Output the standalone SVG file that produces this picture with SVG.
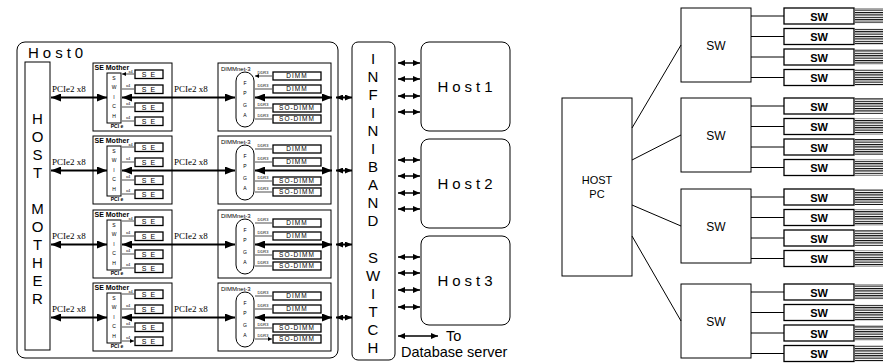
<svg xmlns="http://www.w3.org/2000/svg" width="885" height="363" viewBox="0 0 885 363">
<style>
.s{fill:none;stroke:#000;stroke-width:1}
.b{fill:#fff;stroke:#000;stroke-width:1.3}
.t{font-family:"Liberation Sans",Arial,sans-serif;fill:#000}
.m{text-anchor:middle}
.big{stroke:#000;stroke-width:2;fill:none;marker-start:url(#A);marker-end:url(#A)}
.med{stroke:#000;stroke-width:2;fill:none;marker-start:url(#H);marker-end:url(#H)}
.hst{stroke:#000;stroke-width:1.5;fill:none;marker-start:url(#H);marker-end:url(#H)}
.tiny{stroke:#000;stroke-width:0.7;fill:none;marker-start:url(#T);marker-end:url(#T)}
.pc{font-family:"Liberation Serif","Times New Roman",serif;font-size:9px}
.lbl{font-size:4px}
.sm{font-size:5px}
.sem{font-size:7px;font-weight:bold}
</style>
<defs>
<marker id="A" viewBox="0 0 10 8" refX="10" refY="4" markerWidth="10" markerHeight="8" markerUnits="userSpaceOnUse" orient="auto-start-reverse"><path d="M0,0L10,4L0,8z"/></marker>
<marker id="H" viewBox="0 0 7 6" refX="7" refY="3" markerWidth="7" markerHeight="6" markerUnits="userSpaceOnUse" orient="auto-start-reverse"><path d="M0,0L7,3L0,6z"/></marker>
<marker id="T" viewBox="0 0 4 4" refX="4" refY="2" markerWidth="4" markerHeight="4" markerUnits="userSpaceOnUse" orient="auto-start-reverse"><path d="M0,0L4,2L0,4z"/></marker>
<pattern id="comb" patternUnits="userSpaceOnUse" width="4" height="2.4"><rect x="0" y="0" width="4" height="1.1" fill="#000"/></pattern>
</defs>
<rect width="885" height="363" fill="#fff"/>

<g id="host0">
<rect class="s" x="17" y="42" width="321" height="316" rx="8" stroke-width="1.5"/>
<text class="t" x="28" y="58" font-size="15" letter-spacing="4">Host0</text>
</g>
<g id="host-mother">
<rect class="s" x="25" y="62" width="25" height="288" stroke-width="1.5"/>
<text class="t m" font-size="15"><tspan x="37.5" y="124">H</tspan><tspan x="37.5" y="142">O</tspan><tspan x="37.5" y="160">S</tspan><tspan x="37.5" y="178">T</tspan><tspan x="37.5" y="214">M</tspan><tspan x="37.5" y="232">O</tspan><tspan x="37.5" y="250">T</tspan><tspan x="37.5" y="268">H</tspan><tspan x="37.5" y="286">E</tspan><tspan x="37.5" y="304">R</tspan></text>
</g>

<!-- Row 1 -->
<g id="se-mother-1">
<rect class="s" x="93" y="63" width="79" height="68" stroke-width="1.3"/>
<text class="t sem" x="94.5" y="70">SE Mother</text>
<rect class="s" x="107" y="73" width="14" height="50"/>
<text class="t m sm"><tspan x="114" y="80">S</tspan><tspan x="114" y="89">W</tspan><tspan x="114" y="99">I</tspan><tspan x="114" y="108">C</tspan><tspan x="114" y="118">H</tspan></text>
<text class="t m sm" x="117" y="128" font-weight="bold">PCI e</text>
<rect class="b" x="135" y="70" width="28" height="8.5"/><text class="t m" x="149" y="76.5" font-size="7" letter-spacing="1">S E</text>
<rect class="b" x="135" y="85" width="28" height="8.5"/><text class="t m" x="149" y="91.5" font-size="7" letter-spacing="1">S E</text>
<rect class="b" x="135" y="103" width="28" height="8.5"/><text class="t m" x="149" y="109.5" font-size="7" letter-spacing="1">S E</text>
<rect class="b" x="135" y="117" width="28" height="8.5"/><text class="t m" x="149" y="123.5" font-size="7" letter-spacing="1">S E</text>
<text class="t m lbl"><tspan x="130.5" y="72.5">x4</tspan><tspan x="128" y="87">x4</tspan><tspan x="128" y="105">x4</tspan><tspan x="128" y="119">x4</tspan></text>
</g>
<g id="dimmnet-1">
<rect class="s" x="218" y="63" width="113" height="68" stroke-width="1.3"/>
<text class="t" x="221" y="70.5" font-size="6">DIMMnet-3</text>
<rect class="s" x="236" y="72" width="18" height="55" rx="9"/>
<text class="t m sm"><tspan x="245" y="85">F</tspan><tspan x="245" y="95">P</tspan><tspan x="245" y="107">G</tspan><tspan x="245" y="117">A</tspan></text>
<rect class="b" x="273" y="72" width="48" height="8"/><text class="t m" x="297" y="78" font-size="6.5" letter-spacing="1">DIMM</text>
<rect class="b" x="273" y="85" width="48" height="8"/><text class="t m" x="297" y="91" font-size="6.5" letter-spacing="1">DIMM</text>
<rect class="b" x="273" y="104" width="48" height="8"/><text class="t m" x="297" y="110" font-size="6.5" letter-spacing="1">SO-DIMM</text>
<rect class="b" x="273" y="115" width="48" height="8"/><text class="t m" x="297" y="121" font-size="6.5" letter-spacing="1">SO-DIMM</text>
<text class="t m lbl"><tspan x="263" y="74">DDR3</tspan><tspan x="263" y="87">DDR3</tspan><tspan x="263" y="106">DDR3</tspan><tspan x="263" y="117">DDR3</tspan></text>
</g>

<!-- Row 2 -->
<g id="se-mother-2">
<rect class="s" x="93" y="136" width="79" height="68" stroke-width="1.3"/>
<text class="t sem" x="94.5" y="143">SE Mother</text>
<rect class="s" x="107" y="146" width="14" height="50"/>
<text class="t m sm"><tspan x="114" y="153">S</tspan><tspan x="114" y="162">W</tspan><tspan x="114" y="172">I</tspan><tspan x="114" y="181">C</tspan><tspan x="114" y="191">H</tspan></text>
<text class="t m sm" x="117" y="201" font-weight="bold">PCI e</text>
<rect class="b" x="135" y="143" width="28" height="8.5"/><text class="t m" x="149" y="149.5" font-size="7" letter-spacing="1">S E</text>
<rect class="b" x="135" y="158" width="28" height="8.5"/><text class="t m" x="149" y="164.5" font-size="7" letter-spacing="1">S E</text>
<rect class="b" x="135" y="176" width="28" height="8.5"/><text class="t m" x="149" y="182.5" font-size="7" letter-spacing="1">S E</text>
<rect class="b" x="135" y="190" width="28" height="8.5"/><text class="t m" x="149" y="196.5" font-size="7" letter-spacing="1">S E</text>
<text class="t m lbl"><tspan x="130.5" y="145.5">x4</tspan><tspan x="128" y="160">x4</tspan><tspan x="128" y="178">x4</tspan><tspan x="128" y="192">x4</tspan></text>
</g>
<g id="dimmnet-2">
<rect class="s" x="218" y="136" width="113" height="68" stroke-width="1.3"/>
<text class="t" x="221" y="143.5" font-size="6">DIMMnet-3</text>
<rect class="s" x="236" y="145" width="18" height="55" rx="9"/>
<text class="t m sm"><tspan x="245" y="158">F</tspan><tspan x="245" y="168">P</tspan><tspan x="245" y="180">G</tspan><tspan x="245" y="190">A</tspan></text>
<rect class="b" x="273" y="145" width="48" height="8"/><text class="t m" x="297" y="151" font-size="6.5" letter-spacing="1">DIMM</text>
<rect class="b" x="273" y="158" width="48" height="8"/><text class="t m" x="297" y="164" font-size="6.5" letter-spacing="1">DIMM</text>
<rect class="b" x="273" y="177" width="48" height="8"/><text class="t m" x="297" y="183" font-size="6.5" letter-spacing="1">SO-DIMM</text>
<rect class="b" x="273" y="188" width="48" height="8"/><text class="t m" x="297" y="194" font-size="6.5" letter-spacing="1">SO-DIMM</text>
<text class="t m lbl"><tspan x="263" y="147">DDR3</tspan><tspan x="263" y="160">DDR3</tspan><tspan x="263" y="179">DDR3</tspan><tspan x="263" y="190">DDR3</tspan></text>
</g>

<!-- Row 3 -->
<g id="se-mother-3">
<rect class="s" x="93" y="210" width="79" height="68" stroke-width="1.3"/>
<text class="t sem" x="94.5" y="217">SE Mother</text>
<rect class="s" x="107" y="220" width="14" height="50"/>
<text class="t m sm"><tspan x="114" y="227">S</tspan><tspan x="114" y="236">W</tspan><tspan x="114" y="246">I</tspan><tspan x="114" y="255">C</tspan><tspan x="114" y="265">H</tspan></text>
<text class="t m sm" x="117" y="275" font-weight="bold">PCI e</text>
<rect class="b" x="135" y="217" width="28" height="8.5"/><text class="t m" x="149" y="223.5" font-size="7" letter-spacing="1">S E</text>
<rect class="b" x="135" y="232" width="28" height="8.5"/><text class="t m" x="149" y="238.5" font-size="7" letter-spacing="1">S E</text>
<rect class="b" x="135" y="250" width="28" height="8.5"/><text class="t m" x="149" y="256.5" font-size="7" letter-spacing="1">S E</text>
<rect class="b" x="135" y="264" width="28" height="8.5"/><text class="t m" x="149" y="270.5" font-size="7" letter-spacing="1">S E</text>
<text class="t m lbl"><tspan x="130.5" y="219.5">x4</tspan><tspan x="128" y="234">x4</tspan><tspan x="128" y="252">x4</tspan><tspan x="128" y="266">x4</tspan></text>
</g>
<g id="dimmnet-3">
<rect class="s" x="218" y="210" width="113" height="68" stroke-width="1.3"/>
<text class="t" x="221" y="217.5" font-size="6">DIMMnet-3</text>
<rect class="s" x="236" y="219" width="18" height="55" rx="9"/>
<text class="t m sm"><tspan x="245" y="232">F</tspan><tspan x="245" y="242">P</tspan><tspan x="245" y="254">G</tspan><tspan x="245" y="264">A</tspan></text>
<rect class="b" x="273" y="219" width="48" height="8"/><text class="t m" x="297" y="225" font-size="6.5" letter-spacing="1">DIMM</text>
<rect class="b" x="273" y="232" width="48" height="8"/><text class="t m" x="297" y="238" font-size="6.5" letter-spacing="1">DIMM</text>
<rect class="b" x="273" y="251" width="48" height="8"/><text class="t m" x="297" y="257" font-size="6.5" letter-spacing="1">SO-DIMM</text>
<rect class="b" x="273" y="262" width="48" height="8"/><text class="t m" x="297" y="268" font-size="6.5" letter-spacing="1">SO-DIMM</text>
<text class="t m lbl"><tspan x="263" y="221">DDR3</tspan><tspan x="263" y="234">DDR3</tspan><tspan x="263" y="253">DDR3</tspan><tspan x="263" y="264">DDR3</tspan></text>
</g>

<!-- Row 4 -->
<g id="se-mother-4">
<rect class="s" x="93" y="283" width="79" height="68" stroke-width="1.3"/>
<text class="t sem" x="94.5" y="290">SE Mother</text>
<rect class="s" x="107" y="293" width="14" height="50"/>
<text class="t m sm"><tspan x="114" y="300">S</tspan><tspan x="114" y="309">W</tspan><tspan x="114" y="319">I</tspan><tspan x="114" y="328">C</tspan><tspan x="114" y="338">H</tspan></text>
<text class="t m sm" x="117" y="348" font-weight="bold">PCI e</text>
<rect class="b" x="135" y="290" width="28" height="8.5"/><text class="t m" x="149" y="296.5" font-size="7" letter-spacing="1">S E</text>
<rect class="b" x="135" y="305" width="28" height="8.5"/><text class="t m" x="149" y="311.5" font-size="7" letter-spacing="1">S E</text>
<rect class="b" x="135" y="323" width="28" height="8.5"/><text class="t m" x="149" y="329.5" font-size="7" letter-spacing="1">S E</text>
<rect class="b" x="135" y="337" width="28" height="8.5"/><text class="t m" x="149" y="343.5" font-size="7" letter-spacing="1">S E</text>
<text class="t m lbl"><tspan x="130.5" y="292.5">x4</tspan><tspan x="128" y="307">x4</tspan><tspan x="128" y="325">x4</tspan><tspan x="128" y="339">x4</tspan></text>
</g>
<g id="dimmnet-4">
<rect class="s" x="218" y="283" width="113" height="68" stroke-width="1.3"/>
<text class="t" x="221" y="290.5" font-size="6">DIMMnet-3</text>
<rect class="s" x="236" y="292" width="18" height="55" rx="9"/>
<text class="t m sm"><tspan x="245" y="305">F</tspan><tspan x="245" y="315">P</tspan><tspan x="245" y="327">G</tspan><tspan x="245" y="337">A</tspan></text>
<rect class="b" x="273" y="292" width="48" height="8"/><text class="t m" x="297" y="298" font-size="6.5" letter-spacing="1">DIMM</text>
<rect class="b" x="273" y="305" width="48" height="8"/><text class="t m" x="297" y="311" font-size="6.5" letter-spacing="1">DIMM</text>
<rect class="b" x="273" y="324" width="48" height="8"/><text class="t m" x="297" y="330" font-size="6.5" letter-spacing="1">SO-DIMM</text>
<rect class="b" x="273" y="335" width="48" height="8"/><text class="t m" x="297" y="341" font-size="6.5" letter-spacing="1">SO-DIMM</text>
<text class="t m lbl"><tspan x="263" y="294">DDR3</tspan><tspan x="263" y="307">DDR3</tspan><tspan x="263" y="326">DDR3</tspan><tspan x="263" y="337">DDR3</tspan></text>
</g>

<g id="infiniband-switch">
<rect class="s" x="352" y="42" width="43" height="318" rx="6" stroke-width="1.5"/>
<text class="t m" font-size="15"><tspan x="373" y="63.5">I</tspan><tspan x="373" y="81.6">N</tspan><tspan x="373" y="99.7">F</tspan><tspan x="373" y="117.8">I</tspan><tspan x="373" y="135.9">N</tspan><tspan x="373" y="154">I</tspan><tspan x="373" y="172.1">B</tspan><tspan x="373" y="190.2">A</tspan><tspan x="373" y="208.3">N</tspan><tspan x="373" y="226.4">D</tspan><tspan x="373" y="262.6">S</tspan><tspan x="373" y="280.7">W</tspan><tspan x="373" y="298.8">I</tspan><tspan x="373" y="316.9">T</tspan><tspan x="373" y="335">C</tspan><tspan x="373" y="353.1">H</tspan></text>
</g>
<g id="host1"><rect class="s" x="421" y="42" width="89" height="89" rx="8" stroke-width="1.5"/><text class="t m" x="467" y="92" font-size="15" letter-spacing="4">Host1</text></g>
<g id="host2"><rect class="s" x="421" y="139" width="89" height="89" rx="8" stroke-width="1.5"/><text class="t m" x="467" y="189" font-size="15" letter-spacing="4">Host2</text></g>
<g id="host3"><rect class="s" x="421" y="236" width="89" height="89" rx="8" stroke-width="1.5"/><text class="t m" x="467" y="286" font-size="15" letter-spacing="4">Host3</text></g>
<g id="database-label">
<text class="t" x="446" y="341" font-size="14.5">To</text>
<text class="t" x="401" y="357" font-size="14.5">Database server</text>
</g>

<!-- Right diagram nodes -->
<g id="host-pc"><rect class="s" x="562" y="98" width="70" height="178"/><text class="t m" font-size="11"><tspan x="597" y="184">HOST</tspan><tspan x="597" y="198">PC</tspan></text></g>
<g id="sw-a"><rect class="s" x="681" y="8" width="70" height="74"/><text class="t m" x="716" y="49.5" font-size="12">SW</text></g>
<g id="sw-b"><rect class="s" x="681" y="98" width="70" height="74"/><text class="t m" x="716" y="139.5" font-size="12">SW</text></g>
<g id="sw-c"><rect class="s" x="681" y="189" width="70" height="74"/><text class="t m" x="716" y="230.5" font-size="12">SW</text></g>
<g id="sw-d"><rect class="s" x="681" y="284" width="70" height="74"/><text class="t m" x="716" y="325.5" font-size="12">SW</text></g>

<g id="leaf-a">
<rect class="b" x="784" y="8" width="70" height="16"/><text class="t m" x="819" y="20.5" font-size="11" font-weight="bold">SW</text><rect x="855" y="8" width="28" height="16" fill="url(#comb)"/>
<rect class="b" x="784" y="28.5" width="70" height="16"/><text class="t m" x="819" y="41" font-size="11" font-weight="bold">SW</text><rect x="855" y="28.5" width="28" height="16" fill="url(#comb)"/>
<rect class="b" x="784" y="49" width="70" height="16"/><text class="t m" x="819" y="61.5" font-size="11" font-weight="bold">SW</text><rect x="855" y="49" width="28" height="16" fill="url(#comb)"/>
<rect class="b" x="784" y="69.5" width="70" height="16"/><text class="t m" x="819" y="82" font-size="11" font-weight="bold">SW</text><rect x="855" y="69.5" width="28" height="16" fill="url(#comb)"/>
</g>
<g id="leaf-b">
<rect class="b" x="784" y="98" width="70" height="16"/><text class="t m" x="819" y="110.5" font-size="11" font-weight="bold">SW</text><rect x="855" y="98" width="28" height="16" fill="url(#comb)"/>
<rect class="b" x="784" y="118.5" width="70" height="16"/><text class="t m" x="819" y="131" font-size="11" font-weight="bold">SW</text><rect x="855" y="118.5" width="28" height="16" fill="url(#comb)"/>
<rect class="b" x="784" y="139" width="70" height="16"/><text class="t m" x="819" y="151.5" font-size="11" font-weight="bold">SW</text><rect x="855" y="139" width="28" height="16" fill="url(#comb)"/>
<rect class="b" x="784" y="159.5" width="70" height="16"/><text class="t m" x="819" y="172" font-size="11" font-weight="bold">SW</text><rect x="855" y="159.5" width="28" height="16" fill="url(#comb)"/>
</g>
<g id="leaf-c">
<rect class="b" x="784" y="189" width="70" height="16"/><text class="t m" x="819" y="201.5" font-size="11" font-weight="bold">SW</text><rect x="855" y="189" width="28" height="16" fill="url(#comb)"/>
<rect class="b" x="784" y="209.5" width="70" height="16"/><text class="t m" x="819" y="222" font-size="11" font-weight="bold">SW</text><rect x="855" y="209.5" width="28" height="16" fill="url(#comb)"/>
<rect class="b" x="784" y="230" width="70" height="16"/><text class="t m" x="819" y="242.5" font-size="11" font-weight="bold">SW</text><rect x="855" y="230" width="28" height="16" fill="url(#comb)"/>
<rect class="b" x="784" y="250.5" width="70" height="16"/><text class="t m" x="819" y="263" font-size="11" font-weight="bold">SW</text><rect x="855" y="250.5" width="28" height="16" fill="url(#comb)"/>
</g>
<g id="leaf-d">
<rect class="b" x="784" y="284" width="70" height="16"/><text class="t m" x="819" y="296.5" font-size="11" font-weight="bold">SW</text><rect x="855" y="284" width="28" height="16" fill="url(#comb)"/>
<rect class="b" x="784" y="304.5" width="70" height="16"/><text class="t m" x="819" y="317" font-size="11" font-weight="bold">SW</text><rect x="855" y="304.5" width="28" height="16" fill="url(#comb)"/>
<rect class="b" x="784" y="325" width="70" height="16"/><text class="t m" x="819" y="337.5" font-size="11" font-weight="bold">SW</text><rect x="855" y="325" width="28" height="16" fill="url(#comb)"/>
<rect class="b" x="784" y="345.5" width="70" height="16"/><text class="t m" x="819" y="358" font-size="11" font-weight="bold">SW</text><rect x="855" y="345.5" width="28" height="16" fill="url(#comb)"/>
</g>

<g id="connectors">
<g class="t pc">
<text x="52" y="92">PCIe2 x8</text><text x="174" y="92">PCIe2 x8</text>
<text x="52" y="165">PCIe2 x8</text><text x="174" y="165">PCIe2 x8</text>
<text x="52" y="239">PCIe2 x8</text><text x="174" y="239">PCIe2 x8</text>
<text x="52" y="312">PCIe2 x8</text><text x="174" y="312">PCIe2 x8</text>
</g>
<path class="big" d="M51,97.5H107"/><path class="big" d="M122,97.5H235"/><path class="big" d="M255,97.5H332"/><path class="med" d="M336,97.5H352"/>
<path class="big" d="M51,170.5H107"/><path class="big" d="M122,170.5H235"/><path class="big" d="M255,170.5H332"/><path class="med" d="M336,170.5H352"/>
<path class="big" d="M51,244.5H107"/><path class="big" d="M122,244.5H235"/><path class="big" d="M255,244.5H332"/><path class="med" d="M336,244.5H352"/>
<path class="big" d="M51,317.5H107"/><path class="big" d="M122,317.5H235"/><path class="big" d="M255,317.5H332"/><path class="med" d="M336,317.5H352"/>
<path class="tiny" d="M122,74H134M122,89H134M122,107H134M122,121H134M122,147H134M122,162H134M122,180H134M122,194H134M122,221H134M122,236H134M122,254H134M122,268H134M122,294H134M122,309H134M122,327H134M122,341H134"/>
<path class="tiny" d="M255,76H272M255,89H272M255,108H272M255,119H272M255,149H272M255,162H272M255,181H272M255,192H272M255,223H272M255,236H272M255,255H272M255,266H272M255,296H272M255,309H272M255,328H272M255,339H272"/>
<path class="hst" d="M398,63H420"/><path class="hst" d="M398,79H420"/><path class="hst" d="M398,96H420"/><path class="hst" d="M398,112H420"/>
<path class="hst" d="M398,160H420"/><path class="hst" d="M398,176H420"/><path class="hst" d="M398,193H420"/><path class="hst" d="M398,209H420"/>
<path class="hst" d="M398,257H420"/><path class="hst" d="M398,273H420"/><path class="hst" d="M398,290H420"/><path class="hst" d="M398,307H420"/>
<path class="hst" d="M398,336H438"/>
<path class="s" d="M632,128L681,45M632,160L681,135M632,205L681,226M632,236L681,321"/>
<path class="s" d="M751,16H784M751,36.5H784M751,57H784M751,77.5H784M751,106H784M751,126.5H784M751,147H784M751,167.5H784M751,197H784M751,217.5H784M751,238H784M751,258.5H784M751,292H784M751,312.5H784M751,333H784M751,353.5H784"/>
</g>
</svg>
